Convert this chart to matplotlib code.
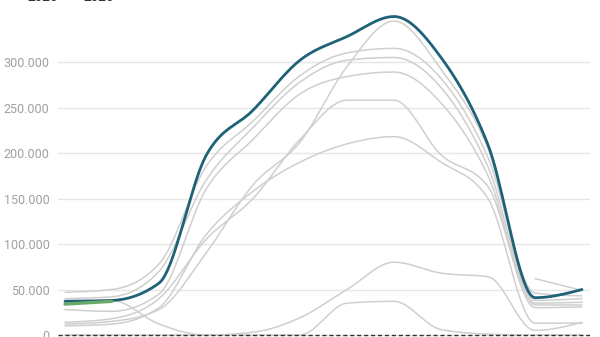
import numpy as np
import matplotlib.pyplot as plt
from matplotlib.ticker import FuncFormatter

plt.rcParams['font.family'] = ['Roboto', 'DejaVu Sans']

months = np.arange(12)

# values in thousands, None = no data
y2025 = [37, 38, 57, 197, 247, 302, 328, 350, 305, 209, 41, 50]
y2026 = [34, 37, None, None, None, None, None, None, None, None, None, None]

past_years = [
    [12, 15, 28, 90, 165, 212, 295, 345, 292, 205, 33, 33],
    [47, 50, 78, 185, 235, 285, 310, 315, 282, 195, 46, 43],
    [40, 42, 70, 170, 228, 278, 302, 305, 272, 185, 38, 40],
    [28, 26, 45, 160, 215, 265, 284, 289, 255, 175, 35, 36],
    [14, 18, 40, 105, 150, 215, 258, 258, 198, 163, 30, 31],
    [10, 12, 30, 110, 158, 190, 210, 218, 190, 150, 13, 13],
    [38, 38, 12, 0, 3, 19, 50, 80, 68, 64, 5, 14],
    [0, 0, 0, 0, 0, 0, 35, 37, 6, 1, 0, 0],
    [None] * 10 + [62, 49],
]

legend_labels = ['2025', '2026']
col_2025 = '#1e6277'
col_2026 = '#6aa86a'
col_grey = '#cfcfcf'


def monotone(x, y, n=20):
    # d3 curveMonotoneX style smoothing between the read points
    x = np.asarray(x, float)
    y = np.asarray(y, float)
    if len(x) < 3:
        return x, y
    h = np.diff(x)
    s = np.diff(y) / h
    t = np.zeros(len(x))
    for i in range(1, len(x) - 1):
        p = (s[i - 1] * h[i] + s[i] * h[i - 1]) / (h[i - 1] + h[i])
        t[i] = (np.sign(s[i - 1]) + np.sign(s[i])) * min(abs(s[i - 1]), abs(s[i]), 0.5 * abs(p))
    t[0] = (3 * s[0] - t[1]) / 2
    t[-1] = (3 * s[-1] - t[-2]) / 2
    xs, ys = [], []
    for i in range(len(x) - 1):
        u = np.linspace(0, 1, n, endpoint=(i == len(x) - 2))
        h00 = 2 * u**3 - 3 * u**2 + 1
        h10 = u**3 - 2 * u**2 + u
        h01 = -2 * u**3 + 3 * u**2
        h11 = u**3 - u**2
        xs.append(x[i] + u * h[i])
        ys.append(h00 * y[i] + h10 * h[i] * t[i] + h01 * y[i + 1] + h11 * h[i] * t[i + 1])
    return np.concatenate(xs), np.concatenate(ys)


def draw(ax, vals, **kw):
    v = np.array([np.nan if a is None else a * 1000 for a in vals])
    ok = ~np.isnan(v)
    xs, ys = monotone(months[ok], v[ok])
    ax.plot(xs, ys, solid_capstyle='round', **kw)


fig = plt.figure(figsize=(6, 3.37), dpi=100)
ax = fig.add_axes([58 / 600, 0, 532 / 600, 1])

for vals in past_years:
    draw(ax, vals, color=col_grey, lw=1.1, zorder=2)
draw(ax, y2025, color=col_2025, lw=2.0, zorder=4)
draw(ax, y2026, color=col_2026, lw=2.4, zorder=5)

ax.set_xlim(-7 / 47, 11 + 8 / 47)
ax.set_ylim(-2 * 1099, 335 * 1099)
ax.set_yticks([0, 50000, 100000, 150000, 200000, 250000, 300000])
ax.yaxis.set_major_formatter(FuncFormatter(lambda v, p: f'{int(v):,}'.replace(',', '.')))
ax.grid(axis='y', color='#e6e6e6', lw=1)
ax.axhline(0, color='#333333', lw=1, ls=(0, (3, 2)), zorder=3)
ax.set_xticks([])
ax.tick_params(axis='y', length=0, pad=6, labelsize=9, labelcolor='#a0a0a0')
for sp in ax.spines.values():
    sp.set_visible(False)
ax.set_axisbelow(True)

# legend, cut off at the top edge like in the source
fig.text(28 / 600, 1.008, legend_labels[0], fontsize=9.5, color='#333333', va='center', fontweight='bold')
fig.text(83 / 600, 1.008, legend_labels[1], fontsize=9.5, color='#333333', va='center', fontweight='bold')

fig.savefig('out.png', dpi=100)
